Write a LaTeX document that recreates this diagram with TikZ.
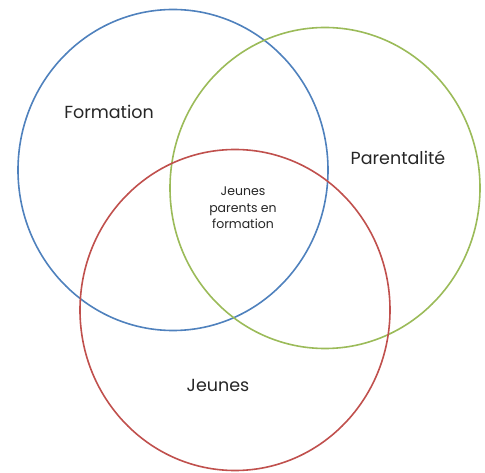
\documentclass[tikz,border=0pt]{standalone}
\usepackage{fontspec}
\setmainfont{Poppins}
\usetikzlibrary{positioning}
\definecolor{vennblue}{HTML}{4F81BD}
\definecolor{venngreen}{HTML}{9BBB59}
\definecolor{vennred}{HTML}{C0504D}
\tikzset{
  venn/.style       = {line width=1.6pt},
  set label/.style  = {font=\fontsize{17.5}{20}\selectfont, text=black!85},
  core label/.style = {font=\fontsize{12.5}{16.5}\selectfont, align=center, text=black!85},
}
\begin{document}
\begin{tikzpicture}[x=1pt,y=-1pt]
\useasboundingbox (0,0) rectangle (485,473);
% les trois ensembles
\draw[venn, draw=vennblue]  (173,170) ellipse (155 and 160.5);
\draw[venn, draw=venngreen] (325,188) ellipse (155 and 160.5);
\draw[venn, draw=vennred]   (235,310) ellipse (155 and 160.5);
% etiquettes
\node[set label] (formation) at (109,112) {Formation};
\node[set label] (parent)    at (398,158) {Parentalité};
\node[set label] (jeunes)    at (218,385) {Jeunes};
\node[core label] (core)     at (243,208) {Jeunes\\parents en\\formation};
\end{tikzpicture}
\end{document}
